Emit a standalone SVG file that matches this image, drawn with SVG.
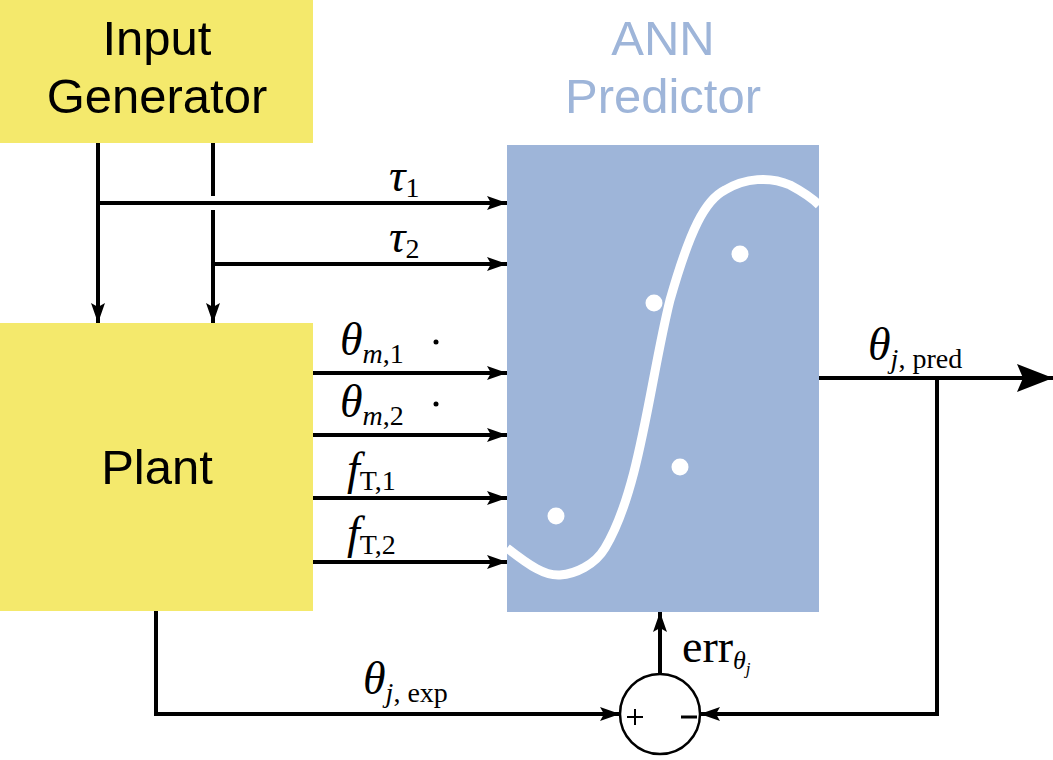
<svg xmlns="http://www.w3.org/2000/svg" width="1053" height="760" viewBox="0 0 1053 760">
<style>
.box{fill:#f4e96c}
.ann{fill:#9eb5d9}
.lbl{font-family:"Liberation Sans",Arial,sans-serif;font-size:49px;text-anchor:middle}
.m{font-family:"Liberation Serif","Times New Roman",serif;font-size:46px}
.mi{font-style:italic}
.sub{font-size:28px}
.ln{stroke:#000;stroke-width:4;fill:none}
</style>
<defs>
<marker id="ah" markerWidth="20" markerHeight="14" refX="20" refY="7" orient="auto" markerUnits="userSpaceOnUse">
<path d="M0,0 L20,7 L0,14 L4,7 Z" fill="#000"/>
</marker>
<marker id="ahb" markerWidth="36" markerHeight="28" refX="36" refY="14" orient="auto" markerUnits="userSpaceOnUse">
<path d="M0,0 L36,14 L0,28 L6,14 Z" fill="#000"/>
</marker>
</defs>
<rect width="1053" height="760" fill="#fff"/>
<g id="input-generator">
<rect class="box" x="0" y="0" width="313" height="143"/>
<text class="lbl" x="157" y="55">Input</text>
<text class="lbl" x="157" y="113">Generator</text>
</g>
<g id="plant">
<rect class="box" x="0" y="323" width="313" height="288"/>
<text class="lbl" x="157" y="484">Plant</text>
</g>
<g id="ann-predictor">
<rect class="ann" x="507" y="145" width="312" height="467"/>
<path d="M507,548 C530,566 545,576 560,575 C575,574 595,565 605,548 C640,490 650,380 670,300 C690,230 705,200 725,190 C745,178 770,176 790,185 C805,193 812,198 819,205" fill="none" stroke="#fff" stroke-width="9"/>
<circle cx="556" cy="516" r="8.5" fill="#fff"/>
<circle cx="654" cy="303" r="8.5" fill="#fff"/>
<circle cx="740" cy="254" r="8.5" fill="#fff"/>
<circle cx="680" cy="467" r="8.5" fill="#fff"/>
<text class="lbl" x="663" y="55" fill="#9eb5d9">ANN</text>
<text class="lbl" x="663" y="113" fill="#9eb5d9">Predictor</text>
</g>
<g id="summing-junction">
<circle cx="660" cy="714" r="40" fill="#fff" stroke="#000" stroke-width="2.5"/>
<path d="M627,717 h16 M635,709 v16" stroke="#000" stroke-width="2"/>
<path d="M681,717 h16" stroke="#000" stroke-width="3"/>
</g>
<g id="connectors">
<path class="ln" d="M98,143 V323" marker-end="url(#ah)"/>
<path class="ln" d="M213,143 V196 M213,210 V323" marker-end="url(#ah)"/>
<path class="ln" d="M98,203 H507" marker-end="url(#ah)"/>
<path class="ln" d="M213,264 H507" marker-end="url(#ah)"/>
<path class="ln" d="M313,373 H507" marker-end="url(#ah)"/>
<path class="ln" d="M313,435 H507" marker-end="url(#ah)"/>
<path class="ln" d="M313,498 H507" marker-end="url(#ah)"/>
<path class="ln" d="M313,562 H507" marker-end="url(#ah)"/>
<path class="ln" d="M819,378 H1053" marker-end="url(#ahb)"/>
<path class="ln" d="M937,378 V714 H700" marker-end="url(#ah)"/>
<path class="ln" d="M156,611 V714 H620" marker-end="url(#ah)"/>
<path class="ln" d="M660,674 V612" marker-end="url(#ah)"/>
</g>
<g id="labels">
<text class="m mi" x="389" y="191">τ<tspan class="sub" font-style="normal" dy="6">1</tspan></text>
<text class="m mi" x="389" y="252">τ<tspan class="sub" font-style="normal" dy="6">2</tspan></text>
<text class="m mi" x="340" y="355">θ<tspan class="sub" dy="8">m</tspan><tspan class="sub" font-style="normal">,1</tspan></text>
<circle cx="436" cy="342" r="2.5" fill="#000"/>
<text class="m mi" x="340" y="417">θ<tspan class="sub" dy="8">m</tspan><tspan class="sub" font-style="normal">,2</tspan></text>
<circle cx="436" cy="404" r="2.5" fill="#000"/>
<text class="m mi" x="347" y="484">f<tspan class="sub" font-style="normal" dy="6">T,1</tspan></text>
<text class="m mi" x="347" y="548">f<tspan class="sub" font-style="normal" dy="6">T,2</tspan></text>
<text class="m mi" x="868" y="360">θ<tspan class="sub" dy="8">j</tspan><tspan class="sub" font-style="normal">, pred</tspan></text>
<text class="m mi" x="363" y="694">θ<tspan class="sub" dy="8">j</tspan><tspan class="sub" font-style="normal">, exp</tspan></text>
<text class="m" x="682" y="662">err<tspan font-size="26" class="mi" dy="7">θ</tspan><tspan font-size="17" class="mi" dy="5">j</tspan></text>
</g>
</svg>
